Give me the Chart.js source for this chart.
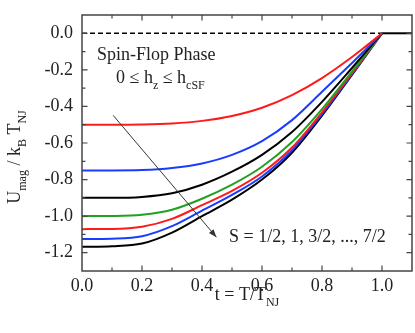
<!DOCTYPE html>
<html>
<head>
<meta charset="utf-8">
<script src="https://cdn.jsdelivr.net/npm/chart.js@4.4.0/dist/chart.umd.min.js"></script>
<style>
body { margin: 0; background: #fff; }
canvas { display: block; }
</style>
</head>
<body>
<canvas id="canvas" width="415" height="333"></canvas>
<script>
// reduced temperature t = T/T_NJ
var tValues = [0, 0.1, 0.2, 0.3, 0.4, 0.5, 0.6, 0.7, 0.8, 0.9, 0.95, 1.0];

// U_mag / k_B T_NJ for each spin value
var u_S1_2 = [-0.500, -0.500, -0.4985, -0.493, -0.479, -0.452, -0.407, -0.338, -0.245, -0.130, -0.066, 0];
var u_S1   = [-0.750, -0.750, -0.748, -0.737, -0.712, -0.665, -0.590, -0.475, -0.320, -0.162, -0.082, 0];
var u_S3_2 = [-0.900, -0.900, -0.895, -0.875, -0.828, -0.757, -0.665, -0.540, -0.375, -0.190, -0.095, 0];
var u_S2   = [-1.000, -0.999, -0.992, -0.965, -0.905, -0.828, -0.730, -0.595, -0.415, -0.210, -0.105, 0];
var u_S5_2 = [-1.071, -1.070, -1.058, -1.015, -0.940, -0.862, -0.763, -0.625, -0.432, -0.218, -0.109, 0];
var u_S3   = [-1.125, -1.123, -1.110, -1.055, -0.970, -0.884, -0.783, -0.640, -0.442, -0.223, -0.112, 0];
var u_S7_2 = [-1.168, -1.165, -1.150, -1.090, -1.000, -0.910, -0.800, -0.653, -0.450, -0.227, -0.114, 0];

var spinLabels = ['1/2', '1', '3/2', '2', '5/2', '3', '7/2'];
var spinSeries = [u_S1_2, u_S1, u_S3_2, u_S2, u_S5_2, u_S3, u_S7_2];
var spinColors = ['#ff1a1a', '#1a3cff', '#000000', '#22a022', '#ff1a1a', '#1a3cff', '#000000'];

// zero reference line (dashed below T_NJ, solid above)
var zeroDashT = [0, 1.0];
var zeroSolidT = [1.0, 1.1];
var zeroU = [0, 0];

// arrow pointing in the direction of increasing S
var arrowT = [0.104, 0.448];
var arrowU = [-0.449, -1.115];

var xTickValues = [0, 0.2, 0.4, 0.6, 0.8, 1.0];
var yTickValues = [0, -0.2, -0.4, -0.6, -0.8, -1.0, -1.2];

var serif = '"Liberation Serif", "Times New Roman", serif';

function pts(xs, ys) {
    return xs.map(function (v, i) { return { x: v, y: ys[i] }; });
}

var datasets = spinSeries.map(function (s, i) {
    return {
        label: 'S = ' + spinLabels[i],
        data: pts(tValues, s),
        borderColor: spinColors[i],
        borderWidth: 2,
        pointRadius: 0,
        cubicInterpolationMode: 'monotone',
        fill: false
    };
});
datasets.push({
    label: 'zero',
    data: pts(zeroDashT, zeroU),
    borderColor: '#000',
    borderWidth: 1.5,
    borderDash: [5, 3],
    pointRadius: 0
});
datasets.push({
    label: 'zero2',
    data: pts(zeroSolidT, zeroU),
    borderColor: '#000',
    borderWidth: 2,
    pointRadius: 0
});

function fmtTick(value) {
    return (Math.abs(value) < 1e-9 ? 0 : value).toFixed(1);
}

// draws a run of text pieces, some of them subscripts
function richText(ctx, parts, x, y, align) {
    var big = '18px ' + serif, small = '12px ' + serif;
    var w = 0;
    parts.forEach(function (p) {
        ctx.font = p[1] ? small : big;
        w += ctx.measureText(p[0]).width;
    });
    var cx = align === 'center' ? x - w / 2 : x;
    ctx.textAlign = 'left';
    ctx.textBaseline = 'alphabetic';
    parts.forEach(function (p) {
        ctx.font = p[1] ? small : big;
        ctx.fillText(p[0], cx, p[1] ? y + 6 : y);
        cx += ctx.measureText(p[0]).width;
    });
}

var decor = {
    id: 'decor',
    afterDatasetsDraw: function (chart) {
        var ctx = chart.ctx, a = chart.chartArea;
        var x = chart.scales.x, y = chart.scales.y;
        ctx.save();

        // arrow
        var x0 = x.getPixelForValue(arrowT[0]), y0 = y.getPixelForValue(arrowU[0]);
        var x1 = x.getPixelForValue(arrowT[1]), y1 = y.getPixelForValue(arrowU[1]);
        ctx.strokeStyle = '#333';
        ctx.fillStyle = '#333';
        ctx.lineWidth = 1;
        ctx.beginPath();
        ctx.moveTo(x0, y0);
        ctx.lineTo(x1, y1);
        ctx.stroke();
        var ang = Math.atan2(y1 - y0, x1 - x0);
        ctx.beginPath();
        ctx.moveTo(x1, y1);
        ctx.lineTo(x1 - 8 * Math.cos(ang) + 3 * Math.sin(ang), y1 - 8 * Math.sin(ang) - 3 * Math.cos(ang));
        ctx.lineTo(x1 - 8 * Math.cos(ang) - 3 * Math.sin(ang), y1 - 8 * Math.sin(ang) + 3 * Math.cos(ang));
        ctx.closePath();
        ctx.fill();

        // frame
        ctx.strokeStyle = '#444';
        ctx.lineWidth = 1.5;
        ctx.strokeRect(a.left, a.top, a.right - a.left, a.bottom - a.top);

        // inward ticks on all four sides
        ctx.lineWidth = 1.2;
        ctx.beginPath();
        for (var i = 1; i <= 10; i++) {
            var v = i / 10, len = (i % 2 === 0) ? 5.5 : 3.5;
            var px = x.getPixelForValue(v);
            ctx.moveTo(px, a.bottom); ctx.lineTo(px, a.bottom - len);
            ctx.moveTo(px, a.top); ctx.lineTo(px, a.top + len);
        }
        for (var j = 0; j <= 12; j++) {
            var vy = -j / 10, leny = (j % 2 === 0) ? 5.5 : 3.5;
            var py = y.getPixelForValue(vy);
            ctx.moveTo(a.left, py); ctx.lineTo(a.left + leny, py);
            ctx.moveTo(a.right, py); ctx.lineTo(a.right - leny, py);
        }
        ctx.stroke();

        // annotations
        ctx.fillStyle = '#222';
        richText(ctx, [['Spin-Flop Phase', false]], 97, 60, 'left');
        richText(ctx, [['0 \u2264 h', false], ['z', true], [' \u2264 h', false], ['cSF', true]], 116, 83, 'left');
        richText(ctx, [['S = 1/2, 1, 3/2, ..., 7/2', false]], 229, 242, 'left');

        // axis titles
        richText(ctx, [['t = T/T', false], ['NJ', true]], 247, 300, 'center');
        ctx.translate(20, 157);
        ctx.rotate(-Math.PI / 2);
        richText(ctx, [['U', false], ['mag', true], [' / k', false], ['B', true], [' T', false], ['NJ', true]], 0, 0, 'center');
        ctx.restore();
    }
};

var ctx = document.getElementById('canvas').getContext('2d');
var myChart = new Chart(ctx, {
    type: 'line',
    data: { datasets: datasets },
    options: {
        responsive: false,
        animation: false,
        devicePixelRatio: 1,
        layout: { padding: { top: 15, right: 3, left: 0, bottom: 0 } },
        plugins: { legend: { display: false }, tooltip: { enabled: false } },
        scales: {
            x: {
                type: 'linear',
                min: 0,
                max: 1.1,
                afterFit: function (s) {
                    s.height = 62;
                    s.paddingLeft = 0;
                    s.paddingRight = 0;
                },
                afterBuildTicks: function (s) {
                    s.ticks = xTickValues.map(function (v) { return { value: v }; });
                },
                grid: { display: false, drawTicks: false },
                border: { display: false },
                ticks: {
                    padding: 4,
                    color: '#222',
                    font: { family: serif, size: 18 },
                    maxRotation: 0,
                    autoSkip: false,
                    callback: fmtTick
                }
            },
            y: {
                type: 'linear',
                min: -1.3,
                max: 0.1,
                afterFit: function (s) {
                    s.width = 82;
                    s.paddingTop = 0;
                    s.paddingBottom = 0;
                },
                afterBuildTicks: function (s) {
                    s.ticks = yTickValues.map(function (v) { return { value: v }; });
                },
                grid: { display: false, drawTicks: false },
                border: { display: false },
                ticks: {
                    padding: 9,
                    color: '#222',
                    font: { family: serif, size: 18 },
                    autoSkip: false,
                    callback: fmtTick
                }
            }
        }
    },
    plugins: [decor]
});
</script>
</body>
</html>
